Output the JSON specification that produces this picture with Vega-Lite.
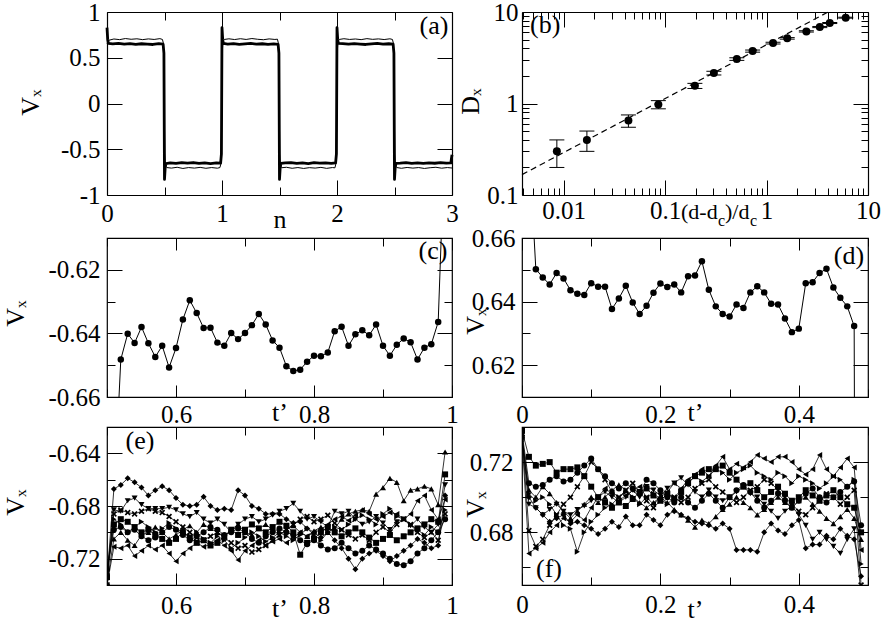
{
"$schema":"https://vega.github.io/schema/vega-lite/v6.json",
"background":"white",
"padding":{"left":1,"top":0,"right":5,"bottom":5},
"config":{
 "font":"Liberation Serif",
 "view":{"stroke":"black","strokeWidth":1.2},
 "axis":{"grid":false,"domain":false,"domainColor":"black","domainWidth":1.2,"tickColor":"black","tickWidth":1,"labelColor":"black","labelFont":"Liberation Serif","labelFontSize":25,"titleFont":"Liberation Serif","titleFontSize":26,"titleFontWeight":"normal","titleColor":"black","labelFlush":false,"labelOverlap":false,"labelBound":false},
 "text":{"font":"Liberation Serif","color":"black"}
},
"columns":2,
"spacing":{"row":30,"column":70},
"bounds":"flush",
"concat":[
 {"width":345,"height":196,"view":{"stroke":null},
  "layer":[
   {"data":{"values":[
{"s":"k","n":0,"v":0.83},{"s":"k","n":0.006,"v":0.7},{"s":"k","n":0.012,"v":0.658},{"s":"k","n":0.05,"v":0.652},{"s":"k","n":0.1,"v":0.657},{"s":"k","n":0.15,"v":0.648},{"s":"k","n":0.2,"v":0.655},{"s":"k","n":0.25,"v":0.646},{"s":"k","n":0.3,"v":0.653},{"s":"k","n":0.35,"v":0.65},{"s":"k","n":0.4,"v":0.645},{"s":"k","n":0.45,"v":0.654},{"s":"k","n":0.488,"v":0.648},{"s":"k","n":0.495,"v":0.55},
{"s":"k","n":0.5,"v":-0.83},{"s":"k","n":0.506,"v":-0.7},{"s":"k","n":0.512,"v":-0.656},{"s":"k","n":0.55,"v":-0.648},{"s":"k","n":0.6,"v":-0.655},{"s":"k","n":0.65,"v":-0.646},{"s":"k","n":0.7,"v":-0.652},{"s":"k","n":0.75,"v":-0.645},{"s":"k","n":0.8,"v":-0.654},{"s":"k","n":0.85,"v":-0.648},{"s":"k","n":0.9,"v":-0.656},{"s":"k","n":0.95,"v":-0.65},{"s":"k","n":0.988,"v":-0.652},{"s":"k","n":0.995,"v":-0.55},
{"s":"k","n":1,"v":0.83},{"s":"k","n":1.006,"v":0.7},{"s":"k","n":1.012,"v":0.657},{"s":"k","n":1.05,"v":0.65},{"s":"k","n":1.1,"v":0.655},{"s":"k","n":1.15,"v":0.647},{"s":"k","n":1.2,"v":0.652},{"s":"k","n":1.25,"v":0.657},{"s":"k","n":1.3,"v":0.648},{"s":"k","n":1.35,"v":0.653},{"s":"k","n":1.4,"v":0.646},{"s":"k","n":1.45,"v":0.651},{"s":"k","n":1.488,"v":0.647},{"s":"k","n":1.495,"v":0.55},
{"s":"k","n":1.5,"v":-0.83},{"s":"k","n":1.506,"v":-0.7},{"s":"k","n":1.512,"v":-0.655},{"s":"k","n":1.55,"v":-0.65},{"s":"k","n":1.6,"v":-0.646},{"s":"k","n":1.65,"v":-0.655},{"s":"k","n":1.7,"v":-0.649},{"s":"k","n":1.75,"v":-0.656},{"s":"k","n":1.8,"v":-0.647},{"s":"k","n":1.85,"v":-0.652},{"s":"k","n":1.9,"v":-0.648},{"s":"k","n":1.95,"v":-0.654},{"s":"k","n":1.988,"v":-0.65},{"s":"k","n":1.995,"v":-0.55},
{"s":"k","n":2,"v":0.83},{"s":"k","n":2.006,"v":0.7},{"s":"k","n":2.012,"v":0.656},{"s":"k","n":2.05,"v":0.654},{"s":"k","n":2.1,"v":0.648},{"s":"k","n":2.15,"v":0.655},{"s":"k","n":2.2,"v":0.65},{"s":"k","n":2.25,"v":0.645},{"s":"k","n":2.3,"v":0.652},{"s":"k","n":2.35,"v":0.656},{"s":"k","n":2.4,"v":0.648},{"s":"k","n":2.45,"v":0.653},{"s":"k","n":2.488,"v":0.649},{"s":"k","n":2.495,"v":0.55},
{"s":"k","n":2.5,"v":-0.83},{"s":"k","n":2.506,"v":-0.7},{"s":"k","n":2.512,"v":-0.655},{"s":"k","n":2.55,"v":-0.652},{"s":"k","n":2.6,"v":-0.646},{"s":"k","n":2.65,"v":-0.654},{"s":"k","n":2.7,"v":-0.649},{"s":"k","n":2.75,"v":-0.655},{"s":"k","n":2.8,"v":-0.648},{"s":"k","n":2.85,"v":-0.653},{"s":"k","n":2.9,"v":-0.646},{"s":"k","n":2.95,"v":-0.652},{"s":"k","n":2.99,"v":-0.65},{"s":"k","n":3,"v":-0.56},
{"s":"t","n":0,"v":0.655},{"s":"t","n":0.012,"v":0.69},{"s":"t","n":0.06,"v":0.705},{"s":"t","n":0.11,"v":0.698},{"s":"t","n":0.16,"v":0.71},{"s":"t","n":0.21,"v":0.702},{"s":"t","n":0.26,"v":0.707},{"s":"t","n":0.31,"v":0.698},{"s":"t","n":0.36,"v":0.706},{"s":"t","n":0.41,"v":0.7},{"s":"t","n":0.46,"v":0.709},{"s":"t","n":0.482,"v":0.7},{"s":"t","n":0.49,"v":0.66},{"s":"t","n":0.496,"v":0.3},
{"s":"t","n":0.502,"v":-0.55},{"s":"t","n":0.508,"v":-0.68},{"s":"t","n":0.52,"v":-0.7},{"s":"t","n":0.56,"v":-0.706},{"s":"t","n":0.61,"v":-0.697},{"s":"t","n":0.66,"v":-0.71},{"s":"t","n":0.71,"v":-0.7},{"s":"t","n":0.76,"v":-0.706},{"s":"t","n":0.81,"v":-0.698},{"s":"t","n":0.86,"v":-0.708},{"s":"t","n":0.91,"v":-0.7},{"s":"t","n":0.96,"v":-0.707},{"s":"t","n":0.982,"v":-0.7},{"s":"t","n":0.99,"v":-0.66},{"s":"t","n":0.996,"v":-0.3},
{"s":"t","n":1.002,"v":0.55},{"s":"t","n":1.008,"v":0.68},{"s":"t","n":1.02,"v":0.7},{"s":"t","n":1.06,"v":0.707},{"s":"t","n":1.11,"v":0.699},{"s":"t","n":1.16,"v":0.708},{"s":"t","n":1.21,"v":0.7},{"s":"t","n":1.26,"v":0.71},{"s":"t","n":1.31,"v":0.702},{"s":"t","n":1.36,"v":0.697},{"s":"t","n":1.41,"v":0.706},{"s":"t","n":1.46,"v":0.7},{"s":"t","n":1.482,"v":0.703},{"s":"t","n":1.49,"v":0.66},{"s":"t","n":1.496,"v":0.3},
{"s":"t","n":1.502,"v":-0.55},{"s":"t","n":1.508,"v":-0.68},{"s":"t","n":1.52,"v":-0.702},{"s":"t","n":1.56,"v":-0.697},{"s":"t","n":1.61,"v":-0.708},{"s":"t","n":1.66,"v":-0.7},{"s":"t","n":1.71,"v":-0.71},{"s":"t","n":1.76,"v":-0.701},{"s":"t","n":1.81,"v":-0.706},{"s":"t","n":1.86,"v":-0.698},{"s":"t","n":1.91,"v":-0.709},{"s":"t","n":1.96,"v":-0.7},{"s":"t","n":1.982,"v":-0.703},{"s":"t","n":1.99,"v":-0.66},{"s":"t","n":1.996,"v":-0.3},
{"s":"t","n":2.002,"v":0.55},{"s":"t","n":2.008,"v":0.68},{"s":"t","n":2.02,"v":0.7},{"s":"t","n":2.06,"v":0.708},{"s":"t","n":2.11,"v":0.7},{"s":"t","n":2.16,"v":0.705},{"s":"t","n":2.21,"v":0.698},{"s":"t","n":2.26,"v":0.709},{"s":"t","n":2.31,"v":0.701},{"s":"t","n":2.36,"v":0.706},{"s":"t","n":2.41,"v":0.699},{"s":"t","n":2.46,"v":0.707},{"s":"t","n":2.482,"v":0.7},{"s":"t","n":2.49,"v":0.66},{"s":"t","n":2.496,"v":0.3},
{"s":"t","n":2.502,"v":-0.55},{"s":"t","n":2.508,"v":-0.68},{"s":"t","n":2.52,"v":-0.7},{"s":"t","n":2.56,"v":-0.708},{"s":"t","n":2.61,"v":-0.699},{"s":"t","n":2.66,"v":-0.706},{"s":"t","n":2.71,"v":-0.7},{"s":"t","n":2.76,"v":-0.71},{"s":"t","n":2.81,"v":-0.702},{"s":"t","n":2.86,"v":-0.697},{"s":"t","n":2.91,"v":-0.707},{"s":"t","n":2.96,"v":-0.7},{"s":"t","n":3,"v":-0.705}
   ]},
    "mark":{"type":"line","color":"black","strokeJoin":"round"},
    "encoding":{
     "x":{"field":"n","type":"quantitative","scale":{"domain":[0,3],"nice":false,"zero":false},
      "axis":{"orient":"bottom","offset":-13,"domain":true,"values":[0,0.5,1,1.5,2,2.5,3],"tickSize":{"condition":{"test":"datum.value % 1 == 0","value":-15},"value":-8},"labelPadding":21,"labelExpr":"datum.value % 1 == 0 ? format(datum.value,'~g') : ''","title":"n","titleBaseline":"alphabetic","titleY":32}},
     "y":{"field":"v","type":"quantitative","scale":{"domain":[-1,1],"range":[183,0],"nice":false,"zero":false},
      "axis":{"orient":"left","domain":true,"values":[-1,-0.5,0,0.5,1],"tickSize":-15,"labelPadding":22,"labelExpr":"datum.value < 0 ? '-' + format(-datum.value,'~g') : format(datum.value,'~g')","title":"V\u2093","titleAngle":-90,"titleBaseline":"alphabetic","titleX":-69,"titleY":90}},
     "strokeWidth":{"field":"s","type":"nominal","scale":{"domain":["k","t"],"range":[2.8,1]},"legend":null}
    }},
   {"data":{"values":[{"n":2.843,"v":0.847,"txt":"(a)"}]},
    "mark":{"type":"text","fontSize":26,"align":"center","baseline":"middle"},
    "encoding":{
     "x":{"field":"n","type":"quantitative","scale":{"domain":[0,3],"nice":false,"zero":false},
      "axis":{"orient":"top","domain":true,"values":[0,0.5,1,1.5,2,2.5,3],"tickSize":{"condition":{"test":"datum.value % 1 == 0","value":-15},"value":-8},"labels":false,"title":null}},
     "y":{"field":"v","type":"quantitative","scale":{"domain":[-1,1],"range":[183,0],"nice":false,"zero":false},
      "axis":{"orient":"right","domain":true,"values":[-1,-0.5,0,0.5,1],"tickSize":-15,"labels":false,"title":null}},
     "text":{"field":"txt"}
    }}
  ],
  "resolve":{"axis":{"x":"independent","y":"independent"}}
 },
 {"width":346,"height":196,"view":{"stroke":null},
  "data":{"values":[
{"x":0.0086,"y":0.3,"lo":0.2,"hi":0.4},{"x":0.017,"y":0.4,"lo":0.3,"hi":0.5},{"x":0.0436,"y":0.65,"lo":0.55,"hi":0.75},{"x":0.086,"y":0.975,"lo":0.875,"hi":1.075},{"x":0.197,"y":1.56,"lo":1.46,"hi":1.66},{"x":0.303,"y":2.15,"lo":2.05,"hi":2.25},{"x":0.51,"y":3.06,"lo":2.96,"hi":3.16},{"x":0.73,"y":3.74,"lo":3.64,"hi":3.84},{"x":1.16,"y":4.57,"lo":4.47,"hi":4.67},{"x":1.6,"y":5.15,"lo":5.05,"hi":5.25},{"x":2.47,"y":6.14,"lo":6.04,"hi":6.24},{"x":3.35,"y":6.85,"lo":6.75,"hi":6.95},{"x":4.2,"y":7.58,"lo":7.48,"hi":7.68},{"x":6.03,"y":8.67,"lo":8.57,"hi":8.77}
  ]},
  "layer":[
   {"data":{"values":[{"x":0.0039,"y":0.167},{"x":4.05,"y":10}]},
    "mark":{"type":"line","color":"black","strokeWidth":1.2,"strokeDash":[6,4]},
    "encoding":{
     "x":{"field":"x","type":"quantitative","scale":{"type":"log","domain":[0.0039,10],"nice":false},
      "axis":{"orient":"bottom","offset":-13,"domain":true,"values":[0.004,0.005,0.006,0.007,0.008,0.009,0.01,0.02,0.03,0.04,0.05,0.06,0.07,0.08,0.09,0.1,0.2,0.3,0.4,0.5,0.6,0.7,0.8,0.9,1,2,3,4,5,6,7,8,9,10],"tickSize":{"condition":{"test":"indexof([0.01,0.1,1,10],datum.value) >= 0","value":-15},"value":-7},"labelPadding":18,"labelExpr":"indexof([0.01,0.1,1,10],datum.value) >= 0 ? format(datum.value,'~g') : ''","title":null}},
     "y":{"field":"y","type":"quantitative","scale":{"type":"log","domain":[0.1,10],"range":[183,0],"nice":false},
      "axis":{"orient":"left","domain":true,"values":[0.1,0.2,0.3,0.4,0.5,0.6,0.7,0.8,0.9,1,2,3,4,5,6,7,8,9,10],"tickSize":{"condition":{"test":"indexof([0.1,1,10],datum.value) >= 0","value":-15},"value":-7},"labelPadding":19,"labelExpr":"indexof([0.1,1,10],datum.value) >= 0 ? format(datum.value,'~g') : ''","title":"D\u2093","titleAngle":-90,"titleBaseline":"alphabetic","titleX":-44,"titleY":89}}
    }},
   {"mark":{"type":"rule","color":"black","strokeWidth":1},
    "encoding":{
     "x":{"field":"x","type":"quantitative","scale":{"type":"log","domain":[0.0039,10],"nice":false},"axis":null},
     "y":{"field":"lo","type":"quantitative","scale":{"type":"log","domain":[0.1,10],"range":[183,0],"nice":false},"axis":null},
     "y2":{"field":"hi"}
    }},
   {"mark":{"type":"tick","orient":"horizontal","size":15,"thickness":1,"color":"black","opacity":1},
    "encoding":{
     "x":{"field":"x","type":"quantitative","scale":{"type":"log","domain":[0.0039,10],"nice":false},"axis":null},
     "y":{"field":"lo","type":"quantitative","scale":{"type":"log","domain":[0.1,10],"range":[183,0],"nice":false},"axis":null}
    }},
   {"mark":{"type":"tick","orient":"horizontal","size":15,"thickness":1,"color":"black","opacity":1},
    "encoding":{
     "x":{"field":"x","type":"quantitative","scale":{"type":"log","domain":[0.0039,10],"nice":false},"axis":null},
     "y":{"field":"hi","type":"quantitative","scale":{"type":"log","domain":[0.1,10],"range":[183,0],"nice":false},"axis":null}
    }},
   {"mark":{"type":"point","filled":true,"color":"black","opacity":1,"size":64},
    "encoding":{
     "x":{"field":"x","type":"quantitative","scale":{"type":"log","domain":[0.0039,10],"nice":false},"axis":null},
     "y":{"field":"y","type":"quantitative","scale":{"type":"log","domain":[0.1,10],"range":[183,0],"nice":false},"axis":null}
    }},
   {"data":{"values":[{"x":0.0066,"y":7.2,"txt":"(b)"}]},
    "mark":{"type":"text","fontSize":26,"align":"center","baseline":"middle"},
    "encoding":{
     "x":{"field":"x","type":"quantitative","scale":{"type":"log","domain":[0.0039,10],"nice":false},
      "axis":{"orient":"top","domain":true,"values":[0.004,0.005,0.006,0.007,0.008,0.009,0.01,0.02,0.03,0.04,0.05,0.06,0.07,0.08,0.09,0.1,0.2,0.3,0.4,0.5,0.6,0.7,0.8,0.9,1,2,3,4,5,6,7,8,9,10],"tickSize":{"condition":{"test":"indexof([0.01,0.1,1,10],datum.value) >= 0","value":-15},"value":-7},"labels":false,"title":null}},
     "y":{"field":"y","type":"quantitative","scale":{"type":"log","domain":[0.1,10],"range":[183,0],"nice":false},
      "axis":{"orient":"right","domain":true,"values":[0.1,0.2,0.3,0.4,0.5,0.6,0.7,0.8,0.9,1,2,3,4,5,6,7,8,9,10],"tickSize":{"condition":{"test":"indexof([0.1,1,10],datum.value) >= 0","value":-15},"value":-7},"labels":false,"title":null}},
     "text":{"field":"txt"}
    }},
   {"data":{"values":[{"x":0.1438,"y":0.0545,"txt":"(d-d"},{"x":0.39,"y":0.0545,"txt":")/d"}]},
    "mark":{"type":"text","fontSize":22,"align":"left","baseline":"alphabetic"},
    "encoding":{
     "x":{"field":"x","type":"quantitative","scale":{"type":"log","domain":[0.0039,10],"nice":false},"axis":null},
     "y":{"field":"y","type":"quantitative","scale":{"type":"log","domain":[0.1,10],"range":[183,0],"nice":false},"axis":null},
     "text":{"field":"txt"}
    }},
   {"data":{"values":[{"x":0.3326,"y":0.0456,"txt":"c"},{"x":0.687,"y":0.0456,"txt":"c"}]},
    "mark":{"type":"text","fontSize":16,"align":"left","baseline":"alphabetic"},
    "encoding":{
     "x":{"field":"x","type":"quantitative","scale":{"type":"log","domain":[0.0039,10],"nice":false},"axis":null},
     "y":{"field":"y","type":"quantitative","scale":{"type":"log","domain":[0.1,10],"range":[183,0],"nice":false},"axis":null},
     "text":{"field":"txt"}
    }}
  ],
  "resolve":{"axis":{"x":"independent","y":"independent"}}
 },
 {"width":345,"height":159,
  "data":{"values":[
{"t":0.513,"v":-0.68},{"t":0.52,"v":-0.6482},{"t":0.53,"v":-0.6401},{"t":0.54,"v":-0.643},{"t":0.55,"v":-0.638},{"t":0.56,"v":-0.6431},{"t":0.57,"v":-0.6474},{"t":0.58,"v":-0.6439},{"t":0.59,"v":-0.6507},{"t":0.6,"v":-0.6446},{"t":0.61,"v":-0.6356},{"t":0.62,"v":-0.6296},{"t":0.63,"v":-0.6336},{"t":0.64,"v":-0.6383},{"t":0.65,"v":-0.6382},{"t":0.66,"v":-0.6429},{"t":0.67,"v":-0.6439},{"t":0.68,"v":-0.6399},{"t":0.69,"v":-0.6418},{"t":0.7,"v":-0.6399},{"t":0.71,"v":-0.6374},{"t":0.72,"v":-0.6339},{"t":0.73,"v":-0.6372},{"t":0.74,"v":-0.6422},{"t":0.75,"v":-0.6445},{"t":0.76,"v":-0.6503},{"t":0.77,"v":-0.6518},{"t":0.78,"v":-0.6514},{"t":0.79,"v":-0.6489},{"t":0.8,"v":-0.647},{"t":0.81,"v":-0.6472},{"t":0.82,"v":-0.646},{"t":0.83,"v":-0.6393},{"t":0.84,"v":-0.6379},{"t":0.85,"v":-0.6439},{"t":0.86,"v":-0.6403},{"t":0.87,"v":-0.639},{"t":0.88,"v":-0.6406},{"t":0.89,"v":-0.6372},{"t":0.9,"v":-0.6439},{"t":0.91,"v":-0.647},{"t":0.92,"v":-0.6436},{"t":0.93,"v":-0.6416},{"t":0.94,"v":-0.6428},{"t":0.95,"v":-0.6482},{"t":0.96,"v":-0.6445},{"t":0.97,"v":-0.6434},{"t":0.98,"v":-0.6364},{"t":0.986,"v":-0.6}
  ]},
  "layer":[
   {"mark":{"type":"line","color":"black","strokeWidth":1,"clip":true},
    "encoding":{
     "x":{"field":"t","type":"quantitative","scale":{"domain":[0.5,1],"nice":false,"zero":false},
      "axis":{"orient":"bottom","values":[0.5,0.6,0.7,0.8,0.9,1],"tickSize":{"condition":{"test":"indexof([0.6,0.8,1],datum.value) >= 0","value":-12},"value":-8},"labelPadding":17,"labelExpr":"indexof([0.6,0.8,1],datum.value) >= 0 ? format(datum.value,'~g') : ''","title":"t\u2019","titleBaseline":"alphabetic","titleY":23}},
     "y":{"field":"v","type":"quantitative","scale":{"domain":[-0.66,-0.61],"nice":false,"zero":false},
      "axis":{"orient":"left","values":[-0.66,-0.65,-0.64,-0.63,-0.62,-0.61],"tickSize":{"condition":{"test":"indexof([-0.66,-0.64,-0.62],datum.value) >= 0","value":-15},"value":-8},"labelPadding":22,"labelExpr":"indexof([-0.66,-0.64,-0.62],datum.value) >= 0 ? '-' + format(-datum.value,'~g') : ''","title":"V\u2093","titleAngle":-90,"titleBaseline":"alphabetic","titleX":-84,"titleY":75}}
    }},
   {"mark":{"type":"point","filled":true,"color":"black","opacity":1,"size":42,"clip":true},
    "encoding":{
     "x":{"field":"t","type":"quantitative","scale":{"domain":[0.5,1],"nice":false,"zero":false},"axis":null},
     "y":{"field":"v","type":"quantitative","scale":{"domain":[-0.66,-0.61],"nice":false,"zero":false},"axis":null}
    }},
   {"data":{"values":[{"t":0.9725,"v":-0.6141,"txt":"(c)"}]},
    "mark":{"type":"text","fontSize":26,"align":"center","baseline":"middle"},
    "encoding":{
     "x":{"field":"t","type":"quantitative","scale":{"domain":[0.5,1],"nice":false,"zero":false},
      "axis":{"orient":"top","values":[0.5,0.6,0.7,0.8,0.9,1],"tickSize":{"condition":{"test":"indexof([0.6,0.8,1],datum.value) >= 0","value":-12},"value":-8},"labels":false,"title":null}},
     "y":{"field":"v","type":"quantitative","scale":{"domain":[-0.66,-0.61],"nice":false,"zero":false},
      "axis":{"orient":"right","values":[-0.66,-0.65,-0.64,-0.63,-0.62,-0.61],"tickSize":{"condition":{"test":"indexof([-0.66,-0.64,-0.62],datum.value) >= 0","value":-15},"value":-8},"labels":false,"title":null}},
     "text":{"field":"txt"}
    }}
  ],
  "resolve":{"axis":{"x":"independent","y":"independent"}}
 },
 {"width":346,"height":159,
  "data":{"values":[
{"t":0.015,"v":0.67},{"t":0.02,"v":0.6502},{"t":0.03,"v":0.6476},{"t":0.04,"v":0.6454},{"t":0.05,"v":0.649},{"t":0.06,"v":0.6473},{"t":0.07,"v":0.6436},{"t":0.08,"v":0.6425},{"t":0.09,"v":0.6421},{"t":0.1,"v":0.6458},{"t":0.11,"v":0.6447},{"t":0.12,"v":0.6447},{"t":0.13,"v":0.6377},{"t":0.14,"v":0.641},{"t":0.15,"v":0.645},{"t":0.16,"v":0.6397},{"t":0.17,"v":0.6361},{"t":0.18,"v":0.6387},{"t":0.19,"v":0.6428},{"t":0.2,"v":0.6457},{"t":0.21,"v":0.6446},{"t":0.22,"v":0.6454},{"t":0.23,"v":0.6429},{"t":0.24,"v":0.648},{"t":0.25,"v":0.6482},{"t":0.26,"v":0.6527},{"t":0.27,"v":0.6437},{"t":0.28,"v":0.6385},{"t":0.29,"v":0.6361},{"t":0.3,"v":0.6353},{"t":0.31,"v":0.6391},{"t":0.32,"v":0.638},{"t":0.33,"v":0.6429},{"t":0.34,"v":0.6448},{"t":0.35,"v":0.6429},{"t":0.36,"v":0.6393},{"t":0.37,"v":0.6391},{"t":0.38,"v":0.6347},{"t":0.39,"v":0.6304},{"t":0.4,"v":0.6315},{"t":0.41,"v":0.6458},{"t":0.42,"v":0.6461},{"t":0.43,"v":0.649},{"t":0.44,"v":0.6503},{"t":0.45,"v":0.6444},{"t":0.46,"v":0.6412},{"t":0.47,"v":0.6385},{"t":0.48,"v":0.6323},{"t":0.4805,"v":0.6}
  ]},
  "layer":[
   {"mark":{"type":"line","color":"black","strokeWidth":1,"clip":true},
    "encoding":{
     "x":{"field":"t","type":"quantitative","scale":{"domain":[0,0.5],"nice":false,"zero":false},
      "axis":{"orient":"bottom","values":[0,0.1,0.2,0.3,0.4,0.5],"tickSize":{"condition":{"test":"indexof([0,0.2,0.4],datum.value) >= 0","value":-12},"value":-8},"labelPadding":17,"labelExpr":"indexof([0,0.2,0.4],datum.value) >= 0 ? format(datum.value,'~g') : ''","title":"t\u2019","titleBaseline":"alphabetic","titleY":23}},
     "y":{"field":"v","type":"quantitative","scale":{"domain":[0.61,0.66],"nice":false,"zero":false},
      "axis":{"orient":"left","values":[0.61,0.62,0.63,0.64,0.65,0.66],"tickSize":{"condition":{"test":"indexof([0.62,0.64,0.66],datum.value) >= 0","value":-15},"value":-8},"labelPadding":22,"labelExpr":"indexof([0.62,0.64,0.66],datum.value) >= 0 ? format(datum.value,'~g') : ''","title":"V\u2093","titleAngle":-90,"titleBaseline":"alphabetic","titleX":-39,"titleY":83}}
    }},
   {"mark":{"type":"point","filled":true,"color":"black","opacity":1,"size":42,"clip":true},
    "encoding":{
     "x":{"field":"t","type":"quantitative","scale":{"domain":[0,0.5],"nice":false,"zero":false},"axis":null},
     "y":{"field":"v","type":"quantitative","scale":{"domain":[0.61,0.66],"nice":false,"zero":false},"axis":null}
    }},
   {"data":{"values":[{"t":0.4725,"v":0.6543,"txt":"(d)"}]},
    "mark":{"type":"text","fontSize":26,"align":"center","baseline":"middle"},
    "encoding":{
     "x":{"field":"t","type":"quantitative","scale":{"domain":[0,0.5],"nice":false,"zero":false},
      "axis":{"orient":"top","values":[0,0.1,0.2,0.3,0.4,0.5],"tickSize":{"condition":{"test":"indexof([0,0.2,0.4],datum.value) >= 0","value":-12},"value":-8},"labels":false,"title":null}},
     "y":{"field":"v","type":"quantitative","scale":{"domain":[0.61,0.66],"nice":false,"zero":false},
      "axis":{"orient":"right","values":[0.61,0.62,0.63,0.64,0.65,0.66],"tickSize":{"condition":{"test":"indexof([0.62,0.64,0.66],datum.value) >= 0","value":-15},"value":-8},"labels":false,"title":null}},
     "text":{"field":"txt"}
    }}
  ],
  "resolve":{"axis":{"x":"independent","y":"independent"}}
 },
 {"width":345,"height":158,
  "data":{"values":[
{"s":"D","t":0.5,"v":-0.735},{"s":"D","t":0.51,"v":-0.667},{"s":"D","t":0.52,"v":-0.664},{"s":"D","t":0.53,"v":-0.659},{"s":"D","t":0.54,"v":-0.662},{"s":"D","t":0.55,"v":-0.666},{"s":"D","t":0.56,"v":-0.672},{"s":"D","t":0.57,"v":-0.668},{"s":"D","t":0.58,"v":-0.665},{"s":"D","t":0.59,"v":-0.668},{"s":"D","t":0.6,"v":-0.674},{"s":"D","t":0.61,"v":-0.679},{"s":"D","t":0.62,"v":-0.68},{"s":"D","t":0.63,"v":-0.679},{"s":"D","t":0.64,"v":-0.673},{"s":"D","t":0.65,"v":-0.68},{"s":"D","t":0.66,"v":-0.683},{"s":"D","t":0.67,"v":-0.682},{"s":"D","t":0.68,"v":-0.683},{"s":"D","t":0.69,"v":-0.668},{"s":"D","t":0.7,"v":-0.672},{"s":"D","t":0.71,"v":-0.68},{"s":"D","t":0.72,"v":-0.682},{"s":"D","t":0.73,"v":-0.686},{"s":"D","t":0.74,"v":-0.686},{"s":"D","t":0.75,"v":-0.686},{"s":"D","t":0.76,"v":-0.69},{"s":"D","t":0.77,"v":-0.693},{"s":"D","t":0.78,"v":-0.692},{"s":"D","t":0.79,"v":-0.697},{"s":"D","t":0.8,"v":-0.7},{"s":"D","t":0.81,"v":-0.704},{"s":"D","t":0.82,"v":-0.7},{"s":"D","t":0.83,"v":-0.706},{"s":"D","t":0.84,"v":-0.712},{"s":"D","t":0.85,"v":-0.72},{"s":"D","t":0.86,"v":-0.728},{"s":"D","t":0.87,"v":-0.72},{"s":"D","t":0.88,"v":-0.716},{"s":"D","t":0.89,"v":-0.714},{"s":"D","t":0.9,"v":-0.718},{"s":"D","t":0.91,"v":-0.722},{"s":"D","t":0.92,"v":-0.718},{"s":"D","t":0.93,"v":-0.714},{"s":"D","t":0.94,"v":-0.71},{"s":"D","t":0.95,"v":-0.705},{"s":"D","t":0.96,"v":-0.708},{"s":"D","t":0.97,"v":-0.712},{"s":"D","t":0.98,"v":-0.71},{"s":"D","t":0.99,"v":-0.672},
{"s":"U","t":0.5,"v":-0.738},{"s":"U","t":0.51,"v":-0.705},{"s":"U","t":0.52,"v":-0.7},{"s":"U","t":0.53,"v":-0.706},{"s":"U","t":0.54,"v":-0.71},{"s":"U","t":0.55,"v":-0.702},{"s":"U","t":0.56,"v":-0.7},{"s":"U","t":0.57,"v":-0.696},{"s":"U","t":0.58,"v":-0.7},{"s":"U","t":0.59,"v":-0.705},{"s":"U","t":0.6,"v":-0.702},{"s":"U","t":0.61,"v":-0.698},{"s":"U","t":0.62,"v":-0.695},{"s":"U","t":0.63,"v":-0.7},{"s":"U","t":0.64,"v":-0.694},{"s":"U","t":0.65,"v":-0.697},{"s":"U","t":0.66,"v":-0.7},{"s":"U","t":0.67,"v":-0.703},{"s":"U","t":0.68,"v":-0.698},{"s":"U","t":0.69,"v":-0.694},{"s":"U","t":0.7,"v":-0.7},{"s":"U","t":0.71,"v":-0.702},{"s":"U","t":0.72,"v":-0.697},{"s":"U","t":0.73,"v":-0.694},{"s":"U","t":0.74,"v":-0.698},{"s":"U","t":0.75,"v":-0.702},{"s":"U","t":0.76,"v":-0.698},{"s":"U","t":0.77,"v":-0.695},{"s":"U","t":0.78,"v":-0.7},{"s":"U","t":0.79,"v":-0.703},{"s":"U","t":0.8,"v":-0.699},{"s":"U","t":0.81,"v":-0.696},{"s":"U","t":0.82,"v":-0.7},{"s":"U","t":0.83,"v":-0.697},{"s":"U","t":0.84,"v":-0.69},{"s":"U","t":0.85,"v":-0.686},{"s":"U","t":0.86,"v":-0.684},{"s":"U","t":0.87,"v":-0.683},{"s":"U","t":0.88,"v":-0.684},{"s":"U","t":0.89,"v":-0.671},{"s":"U","t":0.9,"v":-0.666},{"s":"U","t":0.91,"v":-0.659},{"s":"U","t":0.92,"v":-0.662},{"s":"U","t":0.93,"v":-0.676},{"s":"U","t":0.94,"v":-0.668},{"s":"U","t":0.95,"v":-0.667},{"s":"U","t":0.96,"v":-0.665},{"s":"U","t":0.97,"v":-0.667},{"s":"U","t":0.98,"v":-0.679},{"s":"U","t":0.99,"v":-0.639},
{"s":"W","t":0.5,"v":-0.736},{"s":"W","t":0.51,"v":-0.683},{"s":"W","t":0.52,"v":-0.684},{"s":"W","t":0.53,"v":-0.676},{"s":"W","t":0.54,"v":-0.674},{"s":"W","t":0.55,"v":-0.679},{"s":"W","t":0.56,"v":-0.682},{"s":"W","t":0.57,"v":-0.682},{"s":"W","t":0.58,"v":-0.682},{"s":"W","t":0.59,"v":-0.681},{"s":"W","t":0.6,"v":-0.683},{"s":"W","t":0.61,"v":-0.686},{"s":"W","t":0.62,"v":-0.688},{"s":"W","t":0.63,"v":-0.685},{"s":"W","t":0.64,"v":-0.69},{"s":"W","t":0.65,"v":-0.693},{"s":"W","t":0.66,"v":-0.69},{"s":"W","t":0.67,"v":-0.694},{"s":"W","t":0.68,"v":-0.7},{"s":"W","t":0.69,"v":-0.694},{"s":"W","t":0.7,"v":-0.69},{"s":"W","t":0.71,"v":-0.688},{"s":"W","t":0.72,"v":-0.692},{"s":"W","t":0.73,"v":-0.69},{"s":"W","t":0.74,"v":-0.687},{"s":"W","t":0.75,"v":-0.684},{"s":"W","t":0.76,"v":-0.682},{"s":"W","t":0.77,"v":-0.678},{"s":"W","t":0.78,"v":-0.684},{"s":"W","t":0.79,"v":-0.69},{"s":"W","t":0.8,"v":-0.688},{"s":"W","t":0.81,"v":-0.692},{"s":"W","t":0.82,"v":-0.696},{"s":"W","t":0.83,"v":-0.684},{"s":"W","t":0.84,"v":-0.686},{"s":"W","t":0.85,"v":-0.684},{"s":"W","t":0.86,"v":-0.69},{"s":"W","t":0.87,"v":-0.694},{"s":"W","t":0.88,"v":-0.692},{"s":"W","t":0.89,"v":-0.688},{"s":"W","t":0.9,"v":-0.693},{"s":"W","t":0.91,"v":-0.698},{"s":"W","t":0.92,"v":-0.692},{"s":"W","t":0.93,"v":-0.69},{"s":"W","t":0.94,"v":-0.695},{"s":"W","t":0.95,"v":-0.69},{"s":"W","t":0.96,"v":-0.696},{"s":"W","t":0.97,"v":-0.7},{"s":"W","t":0.98,"v":-0.694},{"s":"W","t":0.99,"v":-0.664},
{"s":"L","t":0.5,"v":-0.74},{"s":"L","t":0.51,"v":-0.711},{"s":"L","t":0.52,"v":-0.712},{"s":"L","t":0.53,"v":-0.71},{"s":"L","t":0.54,"v":-0.718},{"s":"L","t":0.55,"v":-0.714},{"s":"L","t":0.56,"v":-0.71},{"s":"L","t":0.57,"v":-0.713},{"s":"L","t":0.58,"v":-0.71},{"s":"L","t":0.59,"v":-0.716},{"s":"L","t":0.6,"v":-0.722},{"s":"L","t":0.61,"v":-0.716},{"s":"L","t":0.62,"v":-0.712},{"s":"L","t":0.63,"v":-0.708},{"s":"L","t":0.64,"v":-0.711},{"s":"L","t":0.65,"v":-0.709},{"s":"L","t":0.66,"v":-0.706},{"s":"L","t":0.67,"v":-0.71},{"s":"L","t":0.68,"v":-0.714},{"s":"L","t":0.69,"v":-0.721},{"s":"L","t":0.7,"v":-0.714},{"s":"L","t":0.71,"v":-0.71},{"s":"L","t":0.72,"v":-0.706},{"s":"L","t":0.73,"v":-0.71},{"s":"L","t":0.74,"v":-0.707},{"s":"L","t":0.75,"v":-0.705},{"s":"L","t":0.76,"v":-0.708},{"s":"L","t":0.77,"v":-0.704},{"s":"L","t":0.78,"v":-0.7},{"s":"L","t":0.79,"v":-0.703},{"s":"L","t":0.8,"v":-0.7},{"s":"L","t":0.81,"v":-0.698},{"s":"L","t":0.82,"v":-0.694},{"s":"L","t":0.83,"v":-0.69},{"s":"L","t":0.84,"v":-0.688},{"s":"L","t":0.85,"v":-0.691},{"s":"L","t":0.86,"v":-0.687},{"s":"L","t":0.87,"v":-0.683},{"s":"L","t":0.88,"v":-0.686},{"s":"L","t":0.89,"v":-0.69},{"s":"L","t":0.9,"v":-0.688},{"s":"L","t":0.91,"v":-0.685},{"s":"L","t":0.92,"v":-0.686},{"s":"L","t":0.93,"v":-0.69},{"s":"L","t":0.94,"v":-0.686},{"s":"L","t":0.95,"v":-0.676},{"s":"L","t":0.96,"v":-0.672},{"s":"L","t":0.97,"v":-0.683},{"s":"L","t":0.98,"v":-0.69},{"s":"L","t":0.99,"v":-0.675},
{"s":"R","t":0.5,"v":-0.732},{"s":"R","t":0.51,"v":-0.69},{"s":"R","t":0.52,"v":-0.694},{"s":"R","t":0.53,"v":-0.7},{"s":"R","t":0.54,"v":-0.696},{"s":"R","t":0.55,"v":-0.692},{"s":"R","t":0.56,"v":-0.696},{"s":"R","t":0.57,"v":-0.7},{"s":"R","t":0.58,"v":-0.697},{"s":"R","t":0.59,"v":-0.693},{"s":"R","t":0.6,"v":-0.697},{"s":"R","t":0.61,"v":-0.7},{"s":"R","t":0.62,"v":-0.703},{"s":"R","t":0.63,"v":-0.7},{"s":"R","t":0.64,"v":-0.705},{"s":"R","t":0.65,"v":-0.708},{"s":"R","t":0.66,"v":-0.703},{"s":"R","t":0.67,"v":-0.706},{"s":"R","t":0.68,"v":-0.712},{"s":"R","t":0.69,"v":-0.708},{"s":"R","t":0.7,"v":-0.704},{"s":"R","t":0.71,"v":-0.7},{"s":"R","t":0.72,"v":-0.703},{"s":"R","t":0.73,"v":-0.707},{"s":"R","t":0.74,"v":-0.704},{"s":"R","t":0.75,"v":-0.7},{"s":"R","t":0.76,"v":-0.703},{"s":"R","t":0.77,"v":-0.706},{"s":"R","t":0.78,"v":-0.702},{"s":"R","t":0.79,"v":-0.697},{"s":"R","t":0.8,"v":-0.702},{"s":"R","t":0.81,"v":-0.706},{"s":"R","t":0.82,"v":-0.7},{"s":"R","t":0.83,"v":-0.696},{"s":"R","t":0.84,"v":-0.698},{"s":"R","t":0.85,"v":-0.694},{"s":"R","t":0.86,"v":-0.69},{"s":"R","t":0.87,"v":-0.687},{"s":"R","t":0.88,"v":-0.69},{"s":"R","t":0.89,"v":-0.694},{"s":"R","t":0.9,"v":-0.686},{"s":"R","t":0.91,"v":-0.682},{"s":"R","t":0.92,"v":-0.688},{"s":"R","t":0.93,"v":-0.69},{"s":"R","t":0.94,"v":-0.694},{"s":"R","t":0.95,"v":-0.698},{"s":"R","t":0.96,"v":-0.702},{"s":"R","t":0.97,"v":-0.696},{"s":"R","t":0.98,"v":-0.7},{"s":"R","t":0.99,"v":-0.683},
{"s":"C","t":0.5,"v":-0.728},{"s":"C","t":0.51,"v":-0.698},{"s":"C","t":0.52,"v":-0.696},{"s":"C","t":0.53,"v":-0.7},{"s":"C","t":0.54,"v":-0.698},{"s":"C","t":0.55,"v":-0.703},{"s":"C","t":0.56,"v":-0.706},{"s":"C","t":0.57,"v":-0.704},{"s":"C","t":0.58,"v":-0.7},{"s":"C","t":0.59,"v":-0.696},{"s":"C","t":0.6,"v":-0.698},{"s":"C","t":0.61,"v":-0.702},{"s":"C","t":0.62,"v":-0.706},{"s":"C","t":0.63,"v":-0.703},{"s":"C","t":0.64,"v":-0.7},{"s":"C","t":0.65,"v":-0.696},{"s":"C","t":0.66,"v":-0.698},{"s":"C","t":0.67,"v":-0.702},{"s":"C","t":0.68,"v":-0.7},{"s":"C","t":0.69,"v":-0.697},{"s":"C","t":0.7,"v":-0.7},{"s":"C","t":0.71,"v":-0.705},{"s":"C","t":0.72,"v":-0.708},{"s":"C","t":0.73,"v":-0.703},{"s":"C","t":0.74,"v":-0.7},{"s":"C","t":0.75,"v":-0.697},{"s":"C","t":0.76,"v":-0.7},{"s":"C","t":0.77,"v":-0.702},{"s":"C","t":0.78,"v":-0.706},{"s":"C","t":0.79,"v":-0.709},{"s":"C","t":0.8,"v":-0.706},{"s":"C","t":0.81,"v":-0.71},{"s":"C","t":0.82,"v":-0.713},{"s":"C","t":0.83,"v":-0.712},{"s":"C","t":0.84,"v":-0.708},{"s":"C","t":0.85,"v":-0.712},{"s":"C","t":0.86,"v":-0.716},{"s":"C","t":0.87,"v":-0.714},{"s":"C","t":0.88,"v":-0.71},{"s":"C","t":0.89,"v":-0.713},{"s":"C","t":0.9,"v":-0.716},{"s":"C","t":0.91,"v":-0.72},{"s":"C","t":0.92,"v":-0.724},{"s":"C","t":0.93,"v":-0.725},{"s":"C","t":0.94,"v":-0.722},{"s":"C","t":0.95,"v":-0.716},{"s":"C","t":0.96,"v":-0.712},{"s":"C","t":0.97,"v":-0.706},{"s":"C","t":0.98,"v":-0.7},{"s":"C","t":0.99,"v":-0.69},
{"s":"S","t":0.5,"v":-0.734},{"s":"S","t":0.51,"v":-0.694},{"s":"S","t":0.52,"v":-0.69},{"s":"S","t":0.53,"v":-0.692},{"s":"S","t":0.54,"v":-0.696},{"s":"S","t":0.55,"v":-0.7},{"s":"S","t":0.56,"v":-0.698},{"s":"S","t":0.57,"v":-0.702},{"s":"S","t":0.58,"v":-0.705},{"s":"S","t":0.59,"v":-0.708},{"s":"S","t":0.6,"v":-0.705},{"s":"S","t":0.61,"v":-0.7},{"s":"S","t":0.62,"v":-0.704},{"s":"S","t":0.63,"v":-0.708},{"s":"S","t":0.64,"v":-0.706},{"s":"S","t":0.65,"v":-0.71},{"s":"S","t":0.66,"v":-0.708},{"s":"S","t":0.67,"v":-0.703},{"s":"S","t":0.68,"v":-0.698},{"s":"S","t":0.69,"v":-0.702},{"s":"S","t":0.7,"v":-0.698},{"s":"S","t":0.71,"v":-0.694},{"s":"S","t":0.72,"v":-0.697},{"s":"S","t":0.73,"v":-0.7},{"s":"S","t":0.74,"v":-0.696},{"s":"S","t":0.75,"v":-0.692},{"s":"S","t":0.76,"v":-0.695},{"s":"S","t":0.77,"v":-0.7},{"s":"S","t":0.78,"v":-0.717},{"s":"S","t":0.79,"v":-0.708},{"s":"S","t":0.8,"v":-0.705},{"s":"S","t":0.81,"v":-0.7},{"s":"S","t":0.82,"v":-0.696},{"s":"S","t":0.83,"v":-0.7},{"s":"S","t":0.84,"v":-0.703},{"s":"S","t":0.85,"v":-0.7},{"s":"S","t":0.86,"v":-0.697},{"s":"S","t":0.87,"v":-0.7},{"s":"S","t":0.88,"v":-0.704},{"s":"S","t":0.89,"v":-0.708},{"s":"S","t":0.9,"v":-0.705},{"s":"S","t":0.91,"v":-0.702},{"s":"S","t":0.92,"v":-0.706},{"s":"S","t":0.93,"v":-0.703},{"s":"S","t":0.94,"v":-0.7},{"s":"S","t":0.95,"v":-0.697},{"s":"S","t":0.96,"v":-0.694},{"s":"S","t":0.97,"v":-0.69},{"s":"S","t":0.98,"v":-0.692},{"s":"S","t":0.99,"v":-0.656},
{"s":"X","t":0.5,"v":-0.73},{"s":"X","t":0.51,"v":-0.686},{"s":"X","t":0.52,"v":-0.683},{"s":"X","t":0.53,"v":-0.685},{"s":"X","t":0.54,"v":-0.686},{"s":"X","t":0.55,"v":-0.684},{"s":"X","t":0.56,"v":-0.682},{"s":"X","t":0.57,"v":-0.684},{"s":"X","t":0.58,"v":-0.685},{"s":"X","t":0.59,"v":-0.688},{"s":"X","t":0.6,"v":-0.692},{"s":"X","t":0.61,"v":-0.696},{"s":"X","t":0.62,"v":-0.7},{"s":"X","t":0.63,"v":-0.704},{"s":"X","t":0.64,"v":-0.706},{"s":"X","t":0.65,"v":-0.703},{"s":"X","t":0.66,"v":-0.7},{"s":"X","t":0.67,"v":-0.704},{"s":"X","t":0.68,"v":-0.708},{"s":"X","t":0.69,"v":-0.712},{"s":"X","t":0.7,"v":-0.71},{"s":"X","t":0.71,"v":-0.715},{"s":"X","t":0.72,"v":-0.713},{"s":"X","t":0.73,"v":-0.71},{"s":"X","t":0.74,"v":-0.706},{"s":"X","t":0.75,"v":-0.702},{"s":"X","t":0.76,"v":-0.698},{"s":"X","t":0.77,"v":-0.694},{"s":"X","t":0.78,"v":-0.69},{"s":"X","t":0.79,"v":-0.688},{"s":"X","t":0.8,"v":-0.692},{"s":"X","t":0.81,"v":-0.69},{"s":"X","t":0.82,"v":-0.687},{"s":"X","t":0.83,"v":-0.693},{"s":"X","t":0.84,"v":-0.698},{"s":"X","t":0.85,"v":-0.702},{"s":"X","t":0.86,"v":-0.705},{"s":"X","t":0.87,"v":-0.702},{"s":"X","t":0.88,"v":-0.706},{"s":"X","t":0.89,"v":-0.7},{"s":"X","t":0.9,"v":-0.696},{"s":"X","t":0.91,"v":-0.7},{"s":"X","t":0.92,"v":-0.694},{"s":"X","t":0.93,"v":-0.69},{"s":"X","t":0.94,"v":-0.694},{"s":"X","t":0.95,"v":-0.7},{"s":"X","t":0.96,"v":-0.704},{"s":"X","t":0.97,"v":-0.7},{"s":"X","t":0.98,"v":-0.706},{"s":"X","t":0.99,"v":-0.686}
  ]},
  "layer":[
   {"mark":{"type":"line","color":"black","strokeWidth":0.8,"clip":true},
    "encoding":{
     "x":{"field":"t","type":"quantitative","scale":{"domain":[0.5,1],"nice":false,"zero":false},
      "axis":{"orient":"bottom","values":[0.5,0.6,0.7,0.8,0.9,1],"tickSize":{"condition":{"test":"indexof([0.6,0.8,1],datum.value) >= 0","value":-12},"value":-8},"labelPadding":20,"labelExpr":"indexof([0.6,0.8,1],datum.value) >= 0 ? format(datum.value,'~g') : ''","title":"t\u2019","titleBaseline":"alphabetic","titleY":31}},
     "y":{"field":"v","type":"quantitative","scale":{"domain":[-0.74,-0.62],"nice":false,"zero":false},
      "axis":{"orient":"left","values":[-0.74,-0.72,-0.7,-0.68,-0.66,-0.64,-0.62],"tickSize":{"condition":{"test":"indexof([-0.72,-0.68,-0.64],datum.value) >= 0","value":-15},"value":-8},"labelPadding":22,"labelExpr":"indexof([-0.72,-0.68,-0.64],datum.value) >= 0 ? '-' + format(-datum.value,'~g') : ''","title":"V\u2093","titleAngle":-90,"titleBaseline":"alphabetic","titleX":-84,"titleY":75}},
     "detail":{"field":"s"}
    }},
   {"mark":{"type":"point","filled":true,"color":"black","opacity":1,"size":36,"clip":true},
    "encoding":{
     "x":{"field":"t","type":"quantitative","scale":{"domain":[0.5,1],"nice":false,"zero":false},"axis":null},
     "y":{"field":"v","type":"quantitative","scale":{"domain":[-0.74,-0.62],"nice":false,"zero":false},"axis":null},
     "shape":{"field":"s","type":"nominal","scale":{"domain":["C","S","D","U","W","L","R","X"],"range":["circle","square","diamond","triangle-up","triangle-down","triangle-left","triangle-right","M-1,-0.6L-0.6,-1L0,-0.4L0.6,-1L1,-0.6L0.4,0L1,0.6L0.6,1L0,0.4L-0.6,1L-1,0.6L-0.4,0Z"]},"legend":null}
    }},
   {"data":{"values":[{"t":0.5478,"v":-0.6306,"txt":"(e)"}]},
    "mark":{"type":"text","fontSize":26,"align":"center","baseline":"middle"},
    "encoding":{
     "x":{"field":"t","type":"quantitative","scale":{"domain":[0.5,1],"nice":false,"zero":false},
      "axis":{"orient":"top","values":[0.5,0.6,0.7,0.8,0.9,1],"tickSize":{"condition":{"test":"indexof([0.6,0.8,1],datum.value) >= 0","value":-12},"value":-8},"labels":false,"title":null}},
     "y":{"field":"v","type":"quantitative","scale":{"domain":[-0.74,-0.62],"nice":false,"zero":false},
      "axis":{"orient":"right","values":[-0.74,-0.72,-0.7,-0.68,-0.66,-0.64,-0.62],"tickSize":{"condition":{"test":"indexof([-0.72,-0.68,-0.64],datum.value) >= 0","value":-15},"value":-8},"labels":false,"title":null}},
     "text":{"field":"txt"}
    }}
  ],
  "resolve":{"axis":{"x":"independent","y":"independent"}}
 },
 {"width":346,"height":158,
  "data":{"values":[
{"s":"S","t":0,"v":0.738},{"s":"S","t":0.01,"v":0.723},{"s":"S","t":0.02,"v":0.718},{"s":"S","t":0.03,"v":0.719},{"s":"S","t":0.04,"v":0.72},{"s":"S","t":0.05,"v":0.714},{"s":"S","t":0.06,"v":0.716},{"s":"S","t":0.07,"v":0.716},{"s":"S","t":0.08,"v":0.717},{"s":"S","t":0.09,"v":0.712},{"s":"S","t":0.1,"v":0.706},{"s":"S","t":0.11,"v":0.7},{"s":"S","t":0.12,"v":0.697},{"s":"S","t":0.13,"v":0.694},{"s":"S","t":0.14,"v":0.697},{"s":"S","t":0.15,"v":0.695},{"s":"S","t":0.16,"v":0.699},{"s":"S","t":0.17,"v":0.703},{"s":"S","t":0.18,"v":0.705},{"s":"S","t":0.19,"v":0.701},{"s":"S","t":0.2,"v":0.698},{"s":"S","t":0.21,"v":0.702},{"s":"S","t":0.22,"v":0.699},{"s":"S","t":0.23,"v":0.703},{"s":"S","t":0.24,"v":0.708},{"s":"S","t":0.25,"v":0.712},{"s":"S","t":0.26,"v":0.714},{"s":"S","t":0.27,"v":0.716},{"s":"S","t":0.28,"v":0.716},{"s":"S","t":0.29,"v":0.718},{"s":"S","t":0.3,"v":0.714},{"s":"S","t":0.31,"v":0.71},{"s":"S","t":0.32,"v":0.706},{"s":"S","t":0.33,"v":0.708},{"s":"S","t":0.34,"v":0.704},{"s":"S","t":0.35,"v":0.7},{"s":"S","t":0.36,"v":0.703},{"s":"S","t":0.37,"v":0.706},{"s":"S","t":0.38,"v":0.702},{"s":"S","t":0.39,"v":0.698},{"s":"S","t":0.4,"v":0.7},{"s":"S","t":0.41,"v":0.704},{"s":"S","t":0.42,"v":0.701},{"s":"S","t":0.43,"v":0.698},{"s":"S","t":0.44,"v":0.701},{"s":"S","t":0.45,"v":0.704},{"s":"S","t":0.46,"v":0.7},{"s":"S","t":0.47,"v":0.696},{"s":"S","t":0.48,"v":0.694},{"s":"S","t":0.49,"v":0.68},
{"s":"D","t":0,"v":0.735},{"s":"D","t":0.01,"v":0.7},{"s":"D","t":0.02,"v":0.694},{"s":"D","t":0.03,"v":0.69},{"s":"D","t":0.04,"v":0.686},{"s":"D","t":0.05,"v":0.688},{"s":"D","t":0.06,"v":0.69},{"s":"D","t":0.07,"v":0.685},{"s":"D","t":0.08,"v":0.686},{"s":"D","t":0.09,"v":0.684},{"s":"D","t":0.1,"v":0.682},{"s":"D","t":0.11,"v":0.679},{"s":"D","t":0.12,"v":0.682},{"s":"D","t":0.13,"v":0.686},{"s":"D","t":0.14,"v":0.683},{"s":"D","t":0.15,"v":0.689},{"s":"D","t":0.16,"v":0.684},{"s":"D","t":0.17,"v":0.684},{"s":"D","t":0.18,"v":0.69},{"s":"D","t":0.19,"v":0.687},{"s":"D","t":0.2,"v":0.684},{"s":"D","t":0.21,"v":0.69},{"s":"D","t":0.22,"v":0.692},{"s":"D","t":0.23,"v":0.69},{"s":"D","t":0.24,"v":0.688},{"s":"D","t":0.25,"v":0.686},{"s":"D","t":0.26,"v":0.685},{"s":"D","t":0.27,"v":0.684},{"s":"D","t":0.28,"v":0.682},{"s":"D","t":0.29,"v":0.685},{"s":"D","t":0.3,"v":0.682},{"s":"D","t":0.31,"v":0.67},{"s":"D","t":0.32,"v":0.67},{"s":"D","t":0.33,"v":0.67},{"s":"D","t":0.34,"v":0.669},{"s":"D","t":0.35,"v":0.68},{"s":"D","t":0.36,"v":0.685},{"s":"D","t":0.37,"v":0.681},{"s":"D","t":0.38,"v":0.679},{"s":"D","t":0.39,"v":0.684},{"s":"D","t":0.4,"v":0.687},{"s":"D","t":0.41,"v":0.671},{"s":"D","t":0.42,"v":0.673},{"s":"D","t":0.43,"v":0.673},{"s":"D","t":0.44,"v":0.678},{"s":"D","t":0.45,"v":0.676},{"s":"D","t":0.46,"v":0.682},{"s":"D","t":0.47,"v":0.678},{"s":"D","t":0.48,"v":0.676},{"s":"D","t":0.49,"v":0.655},
{"s":"L","t":0,"v":0.734},{"s":"L","t":0.01,"v":0.668},{"s":"L","t":0.02,"v":0.671},{"s":"L","t":0.03,"v":0.674},{"s":"L","t":0.04,"v":0.68},{"s":"L","t":0.05,"v":0.684},{"s":"L","t":0.06,"v":0.688},{"s":"L","t":0.07,"v":0.686},{"s":"L","t":0.08,"v":0.69},{"s":"L","t":0.09,"v":0.687},{"s":"L","t":0.1,"v":0.694},{"s":"L","t":0.11,"v":0.7},{"s":"L","t":0.12,"v":0.705},{"s":"L","t":0.13,"v":0.702},{"s":"L","t":0.14,"v":0.698},{"s":"L","t":0.15,"v":0.701},{"s":"L","t":0.16,"v":0.704},{"s":"L","t":0.17,"v":0.706},{"s":"L","t":0.18,"v":0.7},{"s":"L","t":0.19,"v":0.696},{"s":"L","t":0.2,"v":0.7},{"s":"L","t":0.21,"v":0.703},{"s":"L","t":0.22,"v":0.708},{"s":"L","t":0.23,"v":0.705},{"s":"L","t":0.24,"v":0.71},{"s":"L","t":0.25,"v":0.713},{"s":"L","t":0.26,"v":0.716},{"s":"L","t":0.27,"v":0.712},{"s":"L","t":0.28,"v":0.718},{"s":"L","t":0.29,"v":0.723},{"s":"L","t":0.3,"v":0.716},{"s":"L","t":0.31,"v":0.719},{"s":"L","t":0.32,"v":0.717},{"s":"L","t":0.33,"v":0.72},{"s":"L","t":0.34,"v":0.724},{"s":"L","t":0.35,"v":0.722},{"s":"L","t":0.36,"v":0.72},{"s":"L","t":0.37,"v":0.723},{"s":"L","t":0.38,"v":0.723},{"s":"L","t":0.39,"v":0.72},{"s":"L","t":0.4,"v":0.716},{"s":"L","t":0.41,"v":0.713},{"s":"L","t":0.42,"v":0.716},{"s":"L","t":0.43,"v":0.724},{"s":"L","t":0.44,"v":0.716},{"s":"L","t":0.45,"v":0.712},{"s":"L","t":0.46,"v":0.717},{"s":"L","t":0.47,"v":0.722},{"s":"L","t":0.48,"v":0.717},{"s":"L","t":0.49,"v":0.67},
{"s":"W","t":0,"v":0.733},{"s":"W","t":0.01,"v":0.696},{"s":"W","t":0.02,"v":0.694},{"s":"W","t":0.03,"v":0.69},{"s":"W","t":0.04,"v":0.693},{"s":"W","t":0.05,"v":0.696},{"s":"W","t":0.06,"v":0.692},{"s":"W","t":0.07,"v":0.69},{"s":"W","t":0.08,"v":0.693},{"s":"W","t":0.09,"v":0.695},{"s":"W","t":0.1,"v":0.698},{"s":"W","t":0.11,"v":0.7},{"s":"W","t":0.12,"v":0.703},{"s":"W","t":0.13,"v":0.7},{"s":"W","t":0.14,"v":0.697},{"s":"W","t":0.15,"v":0.7},{"s":"W","t":0.16,"v":0.704},{"s":"W","t":0.17,"v":0.7},{"s":"W","t":0.18,"v":0.706},{"s":"W","t":0.19,"v":0.704},{"s":"W","t":0.2,"v":0.701},{"s":"W","t":0.21,"v":0.705},{"s":"W","t":0.22,"v":0.708},{"s":"W","t":0.23,"v":0.711},{"s":"W","t":0.24,"v":0.707},{"s":"W","t":0.25,"v":0.703},{"s":"W","t":0.26,"v":0.7},{"s":"W","t":0.27,"v":0.704},{"s":"W","t":0.28,"v":0.7},{"s":"W","t":0.29,"v":0.698},{"s":"W","t":0.3,"v":0.7},{"s":"W","t":0.31,"v":0.703},{"s":"W","t":0.32,"v":0.706},{"s":"W","t":0.33,"v":0.702},{"s":"W","t":0.34,"v":0.7},{"s":"W","t":0.35,"v":0.696},{"s":"W","t":0.36,"v":0.692},{"s":"W","t":0.37,"v":0.688},{"s":"W","t":0.38,"v":0.692},{"s":"W","t":0.39,"v":0.695},{"s":"W","t":0.4,"v":0.69},{"s":"W","t":0.41,"v":0.684},{"s":"W","t":0.42,"v":0.676},{"s":"W","t":0.43,"v":0.68},{"s":"W","t":0.44,"v":0.676},{"s":"W","t":0.45,"v":0.672},{"s":"W","t":0.46,"v":0.668},{"s":"W","t":0.47,"v":0.676},{"s":"W","t":0.48,"v":0.682},{"s":"W","t":0.49,"v":0.645},
{"s":"C","t":0,"v":0.737},{"s":"C","t":0.01,"v":0.708},{"s":"C","t":0.02,"v":0.706},{"s":"C","t":0.03,"v":0.707},{"s":"C","t":0.04,"v":0.71},{"s":"C","t":0.05,"v":0.712},{"s":"C","t":0.06,"v":0.709},{"s":"C","t":0.07,"v":0.71},{"s":"C","t":0.08,"v":0.714},{"s":"C","t":0.09,"v":0.718},{"s":"C","t":0.1,"v":0.722},{"s":"C","t":0.11,"v":0.716},{"s":"C","t":0.12,"v":0.712},{"s":"C","t":0.13,"v":0.708},{"s":"C","t":0.14,"v":0.705},{"s":"C","t":0.15,"v":0.708},{"s":"C","t":0.16,"v":0.705},{"s":"C","t":0.17,"v":0.702},{"s":"C","t":0.18,"v":0.71},{"s":"C","t":0.19,"v":0.708},{"s":"C","t":0.2,"v":0.704},{"s":"C","t":0.21,"v":0.7},{"s":"C","t":0.22,"v":0.697},{"s":"C","t":0.23,"v":0.7},{"s":"C","t":0.24,"v":0.697},{"s":"C","t":0.25,"v":0.694},{"s":"C","t":0.26,"v":0.698},{"s":"C","t":0.27,"v":0.702},{"s":"C","t":0.28,"v":0.698},{"s":"C","t":0.29,"v":0.694},{"s":"C","t":0.3,"v":0.7},{"s":"C","t":0.31,"v":0.704},{"s":"C","t":0.32,"v":0.707},{"s":"C","t":0.33,"v":0.703},{"s":"C","t":0.34,"v":0.698},{"s":"C","t":0.35,"v":0.694},{"s":"C","t":0.36,"v":0.698},{"s":"C","t":0.37,"v":0.702},{"s":"C","t":0.38,"v":0.698},{"s":"C","t":0.39,"v":0.694},{"s":"C","t":0.4,"v":0.698},{"s":"C","t":0.41,"v":0.702},{"s":"C","t":0.42,"v":0.705},{"s":"C","t":0.43,"v":0.7},{"s":"C","t":0.44,"v":0.697},{"s":"C","t":0.45,"v":0.7},{"s":"C","t":0.46,"v":0.703},{"s":"C","t":0.47,"v":0.706},{"s":"C","t":0.48,"v":0.709},{"s":"C","t":0.49,"v":0.684},
{"s":"R","t":0,"v":0.732},{"s":"R","t":0.01,"v":0.702},{"s":"R","t":0.02,"v":0.698},{"s":"R","t":0.03,"v":0.7},{"s":"R","t":0.04,"v":0.696},{"s":"R","t":0.05,"v":0.69},{"s":"R","t":0.06,"v":0.684},{"s":"R","t":0.07,"v":0.682},{"s":"R","t":0.08,"v":0.669},{"s":"R","t":0.09,"v":0.68},{"s":"R","t":0.1,"v":0.686},{"s":"R","t":0.11,"v":0.69},{"s":"R","t":0.12,"v":0.694},{"s":"R","t":0.13,"v":0.696},{"s":"R","t":0.14,"v":0.7},{"s":"R","t":0.15,"v":0.703},{"s":"R","t":0.16,"v":0.7},{"s":"R","t":0.17,"v":0.696},{"s":"R","t":0.18,"v":0.7},{"s":"R","t":0.19,"v":0.702},{"s":"R","t":0.2,"v":0.699},{"s":"R","t":0.21,"v":0.696},{"s":"R","t":0.22,"v":0.7},{"s":"R","t":0.23,"v":0.704},{"s":"R","t":0.24,"v":0.708},{"s":"R","t":0.25,"v":0.712},{"s":"R","t":0.26,"v":0.709},{"s":"R","t":0.27,"v":0.712},{"s":"R","t":0.28,"v":0.716},{"s":"R","t":0.29,"v":0.714},{"s":"R","t":0.3,"v":0.71},{"s":"R","t":0.31,"v":0.714},{"s":"R","t":0.32,"v":0.716},{"s":"R","t":0.33,"v":0.718},{"s":"R","t":0.34,"v":0.714},{"s":"R","t":0.35,"v":0.712},{"s":"R","t":0.36,"v":0.71},{"s":"R","t":0.37,"v":0.714},{"s":"R","t":0.38,"v":0.712},{"s":"R","t":0.39,"v":0.708},{"s":"R","t":0.4,"v":0.712},{"s":"R","t":0.41,"v":0.71},{"s":"R","t":0.42,"v":0.708},{"s":"R","t":0.43,"v":0.705},{"s":"R","t":0.44,"v":0.708},{"s":"R","t":0.45,"v":0.712},{"s":"R","t":0.46,"v":0.71},{"s":"R","t":0.47,"v":0.706},{"s":"R","t":0.48,"v":0.71},{"s":"R","t":0.49,"v":0.662},
{"s":"X","t":0,"v":0.736},{"s":"X","t":0.01,"v":0.681},{"s":"X","t":0.02,"v":0.672},{"s":"X","t":0.03,"v":0.676},{"s":"X","t":0.04,"v":0.684},{"s":"X","t":0.05,"v":0.69},{"s":"X","t":0.06,"v":0.696},{"s":"X","t":0.07,"v":0.7},{"s":"X","t":0.08,"v":0.706},{"s":"X","t":0.09,"v":0.712},{"s":"X","t":0.1,"v":0.72},{"s":"X","t":0.11,"v":0.716},{"s":"X","t":0.12,"v":0.71},{"s":"X","t":0.13,"v":0.703},{"s":"X","t":0.14,"v":0.7},{"s":"X","t":0.15,"v":0.704},{"s":"X","t":0.16,"v":0.708},{"s":"X","t":0.17,"v":0.703},{"s":"X","t":0.18,"v":0.698},{"s":"X","t":0.19,"v":0.694},{"s":"X","t":0.2,"v":0.698},{"s":"X","t":0.21,"v":0.702},{"s":"X","t":0.22,"v":0.7},{"s":"X","t":0.23,"v":0.697},{"s":"X","t":0.24,"v":0.7},{"s":"X","t":0.25,"v":0.705},{"s":"X","t":0.26,"v":0.708},{"s":"X","t":0.27,"v":0.71},{"s":"X","t":0.28,"v":0.706},{"s":"X","t":0.29,"v":0.703},{"s":"X","t":0.3,"v":0.7},{"s":"X","t":0.31,"v":0.697},{"s":"X","t":0.32,"v":0.7},{"s":"X","t":0.33,"v":0.704},{"s":"X","t":0.34,"v":0.706},{"s":"X","t":0.35,"v":0.71},{"s":"X","t":0.36,"v":0.708},{"s":"X","t":0.37,"v":0.704},{"s":"X","t":0.38,"v":0.7},{"s":"X","t":0.39,"v":0.696},{"s":"X","t":0.4,"v":0.692},{"s":"X","t":0.41,"v":0.69},{"s":"X","t":0.42,"v":0.694},{"s":"X","t":0.43,"v":0.698},{"s":"X","t":0.44,"v":0.702},{"s":"X","t":0.45,"v":0.7},{"s":"X","t":0.46,"v":0.696},{"s":"X","t":0.47,"v":0.7},{"s":"X","t":0.48,"v":0.704},{"s":"X","t":0.49,"v":0.65},
{"s":"U","t":0,"v":0.735},{"s":"U","t":0.01,"v":0.704},{"s":"U","t":0.02,"v":0.7},{"s":"U","t":0.03,"v":0.706},{"s":"U","t":0.04,"v":0.702},{"s":"U","t":0.05,"v":0.697},{"s":"U","t":0.06,"v":0.692},{"s":"U","t":0.07,"v":0.688},{"s":"U","t":0.08,"v":0.692},{"s":"U","t":0.09,"v":0.696},{"s":"U","t":0.1,"v":0.7},{"s":"U","t":0.11,"v":0.697},{"s":"U","t":0.12,"v":0.7},{"s":"U","t":0.13,"v":0.704},{"s":"U","t":0.14,"v":0.707},{"s":"U","t":0.15,"v":0.704},{"s":"U","t":0.16,"v":0.7},{"s":"U","t":0.17,"v":0.697},{"s":"U","t":0.18,"v":0.694},{"s":"U","t":0.19,"v":0.697},{"s":"U","t":0.2,"v":0.7},{"s":"U","t":0.21,"v":0.697},{"s":"U","t":0.22,"v":0.693},{"s":"U","t":0.23,"v":0.69},{"s":"U","t":0.24,"v":0.687},{"s":"U","t":0.25,"v":0.683},{"s":"U","t":0.26,"v":0.687},{"s":"U","t":0.27,"v":0.685},{"s":"U","t":0.28,"v":0.689},{"s":"U","t":0.29,"v":0.693},{"s":"U","t":0.3,"v":0.696},{"s":"U","t":0.31,"v":0.7},{"s":"U","t":0.32,"v":0.697},{"s":"U","t":0.33,"v":0.694},{"s":"U","t":0.34,"v":0.69},{"s":"U","t":0.35,"v":0.693},{"s":"U","t":0.36,"v":0.697},{"s":"U","t":0.37,"v":0.7},{"s":"U","t":0.38,"v":0.697},{"s":"U","t":0.39,"v":0.694},{"s":"U","t":0.4,"v":0.698},{"s":"U","t":0.41,"v":0.7},{"s":"U","t":0.42,"v":0.696},{"s":"U","t":0.43,"v":0.692},{"s":"U","t":0.44,"v":0.688},{"s":"U","t":0.45,"v":0.685},{"s":"U","t":0.46,"v":0.689},{"s":"U","t":0.47,"v":0.693},{"s":"U","t":0.48,"v":0.688},{"s":"U","t":0.49,"v":0.676}
  ]},
  "layer":[
   {"mark":{"type":"line","color":"black","strokeWidth":0.8,"clip":true},
    "encoding":{
     "x":{"field":"t","type":"quantitative","scale":{"domain":[0,0.5],"nice":false,"zero":false},
      "axis":{"orient":"bottom","values":[0,0.1,0.2,0.3,0.4,0.5],"tickSize":{"condition":{"test":"indexof([0,0.2,0.4],datum.value) >= 0","value":-12},"value":-8},"labelPadding":19,"labelExpr":"indexof([0,0.2,0.4],datum.value) >= 0 ? format(datum.value,'~g') : ''","title":"t\u2019","titleBaseline":"alphabetic","titleY":32}},
     "y":{"field":"v","type":"quantitative","scale":{"domain":[0.65,0.74],"nice":false,"zero":false},
      "axis":{"orient":"left","values":[0.66,0.68,0.7,0.72,0.74],"tickSize":{"condition":{"test":"indexof([0.68,0.72],datum.value) >= 0","value":-15},"value":-8},"labelPadding":24,"labelExpr":"indexof([0.68,0.72],datum.value) >= 0 ? format(datum.value,'~g') : ''","title":"V\u2093","titleAngle":-90,"titleBaseline":"alphabetic","titleX":-39,"titleY":77}},
     "detail":{"field":"s"}
    }},
   {"mark":{"type":"point","filled":true,"color":"black","opacity":1,"size":36,"clip":true},
    "encoding":{
     "x":{"field":"t","type":"quantitative","scale":{"domain":[0,0.5],"nice":false,"zero":false},"axis":null},
     "y":{"field":"v","type":"quantitative","scale":{"domain":[0.65,0.74],"nice":false,"zero":false},"axis":null},
     "shape":{"field":"s","type":"nominal","scale":{"domain":["C","S","D","U","W","L","R","X"],"range":["circle","square","diamond","triangle-up","triangle-down","triangle-left","triangle-right","M-1,-0.6L-0.6,-1L0,-0.4L0.6,-1L1,-0.6L0.4,0L1,0.6L0.6,1L0,0.4L-0.6,1L-1,0.6L-0.4,0Z"]},"legend":null}
    }},
   {"data":{"values":[{"t":0.039,"v":0.6592,"txt":"(f)"}]},
    "mark":{"type":"text","fontSize":26,"align":"center","baseline":"middle"},
    "encoding":{
     "x":{"field":"t","type":"quantitative","scale":{"domain":[0,0.5],"nice":false,"zero":false},
      "axis":{"orient":"top","values":[0,0.1,0.2,0.3,0.4,0.5],"tickSize":{"condition":{"test":"indexof([0,0.2,0.4],datum.value) >= 0","value":-12},"value":-8},"labels":false,"title":null}},
     "y":{"field":"v","type":"quantitative","scale":{"domain":[0.65,0.74],"nice":false,"zero":false},
      "axis":{"orient":"right","values":[0.66,0.68,0.7,0.72,0.74],"tickSize":{"condition":{"test":"indexof([0.68,0.72],datum.value) >= 0","value":-15},"value":-8},"labels":false,"title":null}},
     "text":{"field":"txt"}
    }}
  ],
  "resolve":{"axis":{"x":"independent","y":"independent"}}
 }
]
}
